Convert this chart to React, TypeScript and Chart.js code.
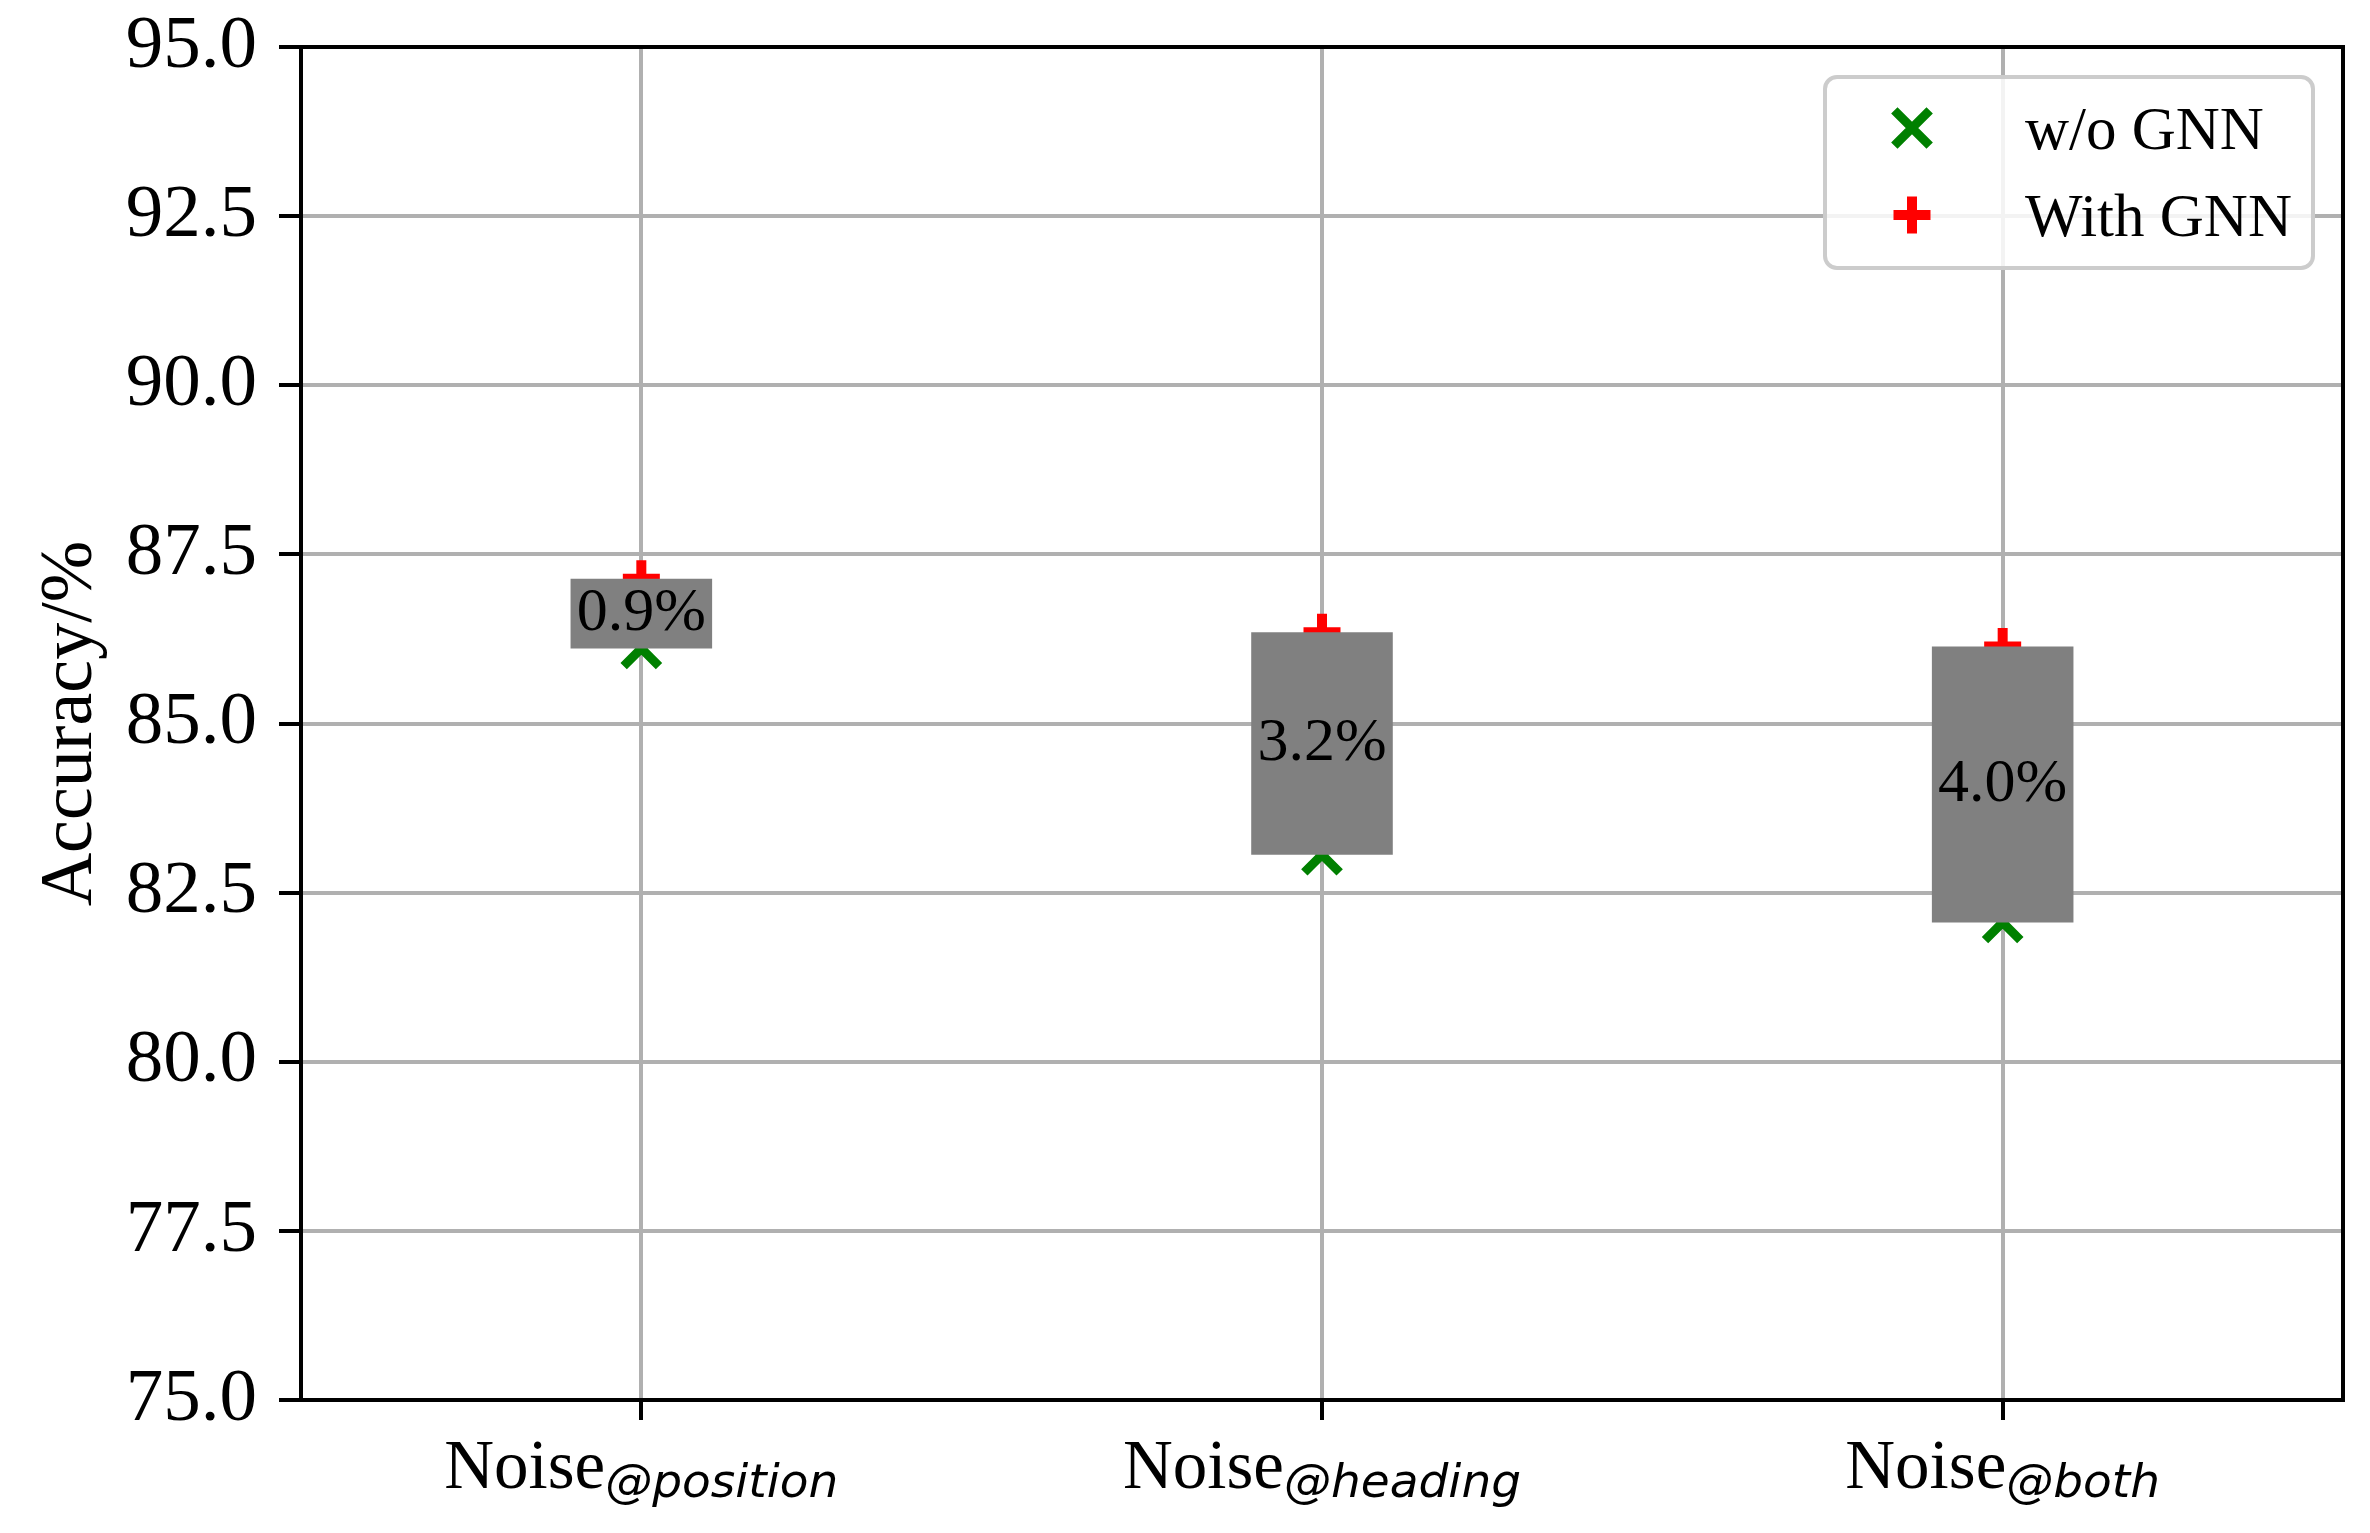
import React, { useEffect, useRef } from 'react';
import { Chart, registerables } from 'chart.js';

Chart.register(...registerables);

// ---- data ----
const categoryPrefix = 'Noise';
const categorySubs = ['@position', '@heading', '@both'];
const woGNN = [86.11, 83.06, 82.06];
const withGNN = [87.14, 86.35, 86.14];
const gainLabels = ['0.9%', '3.2%', '4.0%'];
const seriesNames = ['w/o GNN', 'With GNN'];
const yMin = 75;
const yMax = 95;
const yStep = 2.5;

const SERIF = '"Liberation Serif", "DejaVu Serif", serif';
const SANS = '"DejaVu Sans", sans-serif';

function drawMarker(ctx: CanvasRenderingContext2D, style: string, x: number, y: number, r: number, lw: number, color: string) {
  ctx.save();
  ctx.strokeStyle = color;
  ctx.lineWidth = lw;
  ctx.lineCap = 'butt';
  ctx.beginPath();
  if (style === 'crossRot') {
    const d = r * Math.SQRT1_2;
    ctx.moveTo(x - d, y - d); ctx.lineTo(x + d, y + d);
    ctx.moveTo(x + d, y - d); ctx.lineTo(x - d, y + d);
  } else {
    ctx.moveTo(x - r, y); ctx.lineTo(x + r, y);
    ctx.moveTo(x, y - r); ctx.lineTo(x, y + r);
  }
  ctx.stroke();
  ctx.restore();
}

const overlayPlugin = {
  id: 'overlay',
  afterDraw(chart: any) {
    const ctx: CanvasRenderingContext2D = chart.ctx;
    const area = chart.chartArea;

    // bar value labels
    const meta = chart.getDatasetMeta(0);
    ctx.save();
    ctx.fillStyle = '#000';
    ctx.font = `62px ${SERIF}`;
    ctx.textAlign = 'center';
    ctx.textBaseline = 'middle';
    meta.data.forEach((el: any, i: number) => {
      const cy = (el.y + el.base) / 2;
      ctx.fillText(gainLabels[i], el.x, cy);
    });
    ctx.restore();

    // frame
    ctx.save();
    ctx.strokeStyle = '#000';
    ctx.lineWidth = 4;
    ctx.strokeRect(area.left, area.top, area.right - area.left, area.bottom - area.top);
    ctx.restore();

    // x labels with subscripts
    const xs = chart.scales.x;
    ctx.save();
    ctx.fillStyle = '#000';
    ctx.textBaseline = 'alphabetic';
    ctx.textAlign = 'left';
    categorySubs.forEach((sub, i) => {
      const tx = xs.getPixelForTick(i);
      ctx.font = `69px ${SERIF}`;
      const w1 = ctx.measureText(categoryPrefix).width;
      ctx.font = `italic 47px ${SANS}`;
      const w2 = ctx.measureText(sub).width;
      const x0 = tx - (w1 + w2) / 2;
      ctx.font = `69px ${SERIF}`;
      ctx.fillText(categoryPrefix, x0, area.bottom + 88);
      ctx.font = `italic 47px ${SANS}`;
      ctx.fillText(sub, x0 + w1, area.bottom + 97);
    });
    ctx.restore();

    // legend
    const bx1 = area.right - 30;
    const bx0 = bx1 - 488;
    const by0 = area.top + 30;
    const by1 = by0 + 191;
    ctx.save();
    ctx.beginPath();
    const r = 12;
    ctx.moveTo(bx0 + r, by0);
    ctx.lineTo(bx1 - r, by0);
    ctx.arcTo(bx1, by0, bx1, by0 + r, r);
    ctx.lineTo(bx1, by1 - r);
    ctx.arcTo(bx1, by1, bx1 - r, by1, r);
    ctx.lineTo(bx0 + r, by1);
    ctx.arcTo(bx0, by1, bx0, by1 - r, r);
    ctx.lineTo(bx0, by0 + r);
    ctx.arcTo(bx0, by0, bx0 + r, by0, r);
    ctx.closePath();
    ctx.fillStyle = 'rgba(255,255,255,0.85)';
    ctx.fill();
    ctx.strokeStyle = '#cccccc';
    ctx.lineWidth = 4;
    ctx.stroke();
    ctx.restore();

    const ds = chart.data.datasets;
    [1, 2].forEach((di, k) => {
      const d = ds[di];
      const cy = by0 + 51 + k * 87;
      drawMarker(ctx, d.pointStyle, bx0 + 87, cy, d.pointRadius, d.pointBorderWidth, d.pointBorderColor);
      ctx.save();
      ctx.fillStyle = '#000';
      ctx.font = `61px ${SERIF}`;
      ctx.textAlign = 'left';
      ctx.textBaseline = 'alphabetic';
      ctx.fillText(seriesNames[k], bx0 + 200, cy + 21);
      ctx.restore();
    });
  },
};

export default function App() {
  const ref = useRef<HTMLCanvasElement | null>(null);

  useEffect(() => {
    if (!ref.current) return;
    const chart = new Chart(ref.current, {
      type: 'bar',
      data: {
        labels: categorySubs.map((s) => categoryPrefix + s),
        datasets: [
          {
            type: 'bar',
            label: 'gain',
            data: woGNN.map((w, i) => [w, withGNN[i]]) as any,
            backgroundColor: '#808080',
            borderWidth: 0,
            barPercentage: 0.208,
            categoryPercentage: 1.0,
            order: 1,
          } as any,
          {
            type: 'line',
            label: seriesNames[0],
            data: woGNN,
            showLine: false,
            pointStyle: 'crossRot',
            pointRadius: 25,
            pointHoverRadius: 25,
            pointBorderWidth: 9,
            pointBorderColor: '#008000',
            pointBackgroundColor: '#008000',
            order: 2,
          } as any,
          {
            type: 'line',
            label: seriesNames[1],
            data: withGNN,
            showLine: false,
            pointStyle: 'cross',
            pointRadius: 18.5,
            pointHoverRadius: 18.5,
            pointBorderWidth: 10,
            pointBorderColor: '#ff0000',
            pointBackgroundColor: '#ff0000',
            order: 2,
          } as any,
        ],
      },
      options: {
        responsive: false,
        animation: false,
        devicePixelRatio: 1,
        layout: { padding: { top: 47, right: 27, left: 0, bottom: 0 } },
        plugins: {
          legend: { display: false },
          tooltip: { enabled: false },
        },
        scales: {
          x: {
            type: 'category',
            offset: true,
            z: 1,
            grid: {
              offset: false,
              color: '#b0b0b0',
              lineWidth: 4,
              tickColor: '#000',
              tickLength: 20,
              tickWidth: 4,
            },
            border: { color: '#000', width: 4 },
            ticks: { display: false },
            afterFit: (s: any) => { s.height = 133; s.paddingLeft = 0; s.paddingRight = 0; },
          },
          y: {
            min: yMin,
            max: yMax,
            z: 1,
            grid: {
              color: '#b0b0b0',
              lineWidth: 4,
              tickColor: '#000',
              tickLength: 22,
              tickWidth: 4,
            },
            border: { color: '#000', width: 4 },
            ticks: {
              stepSize: yStep,
              padding: 22,
              color: '#000',
              font: { family: SERIF, size: 75 },
              callback: (v: any) => Number(v).toFixed(1),
            },
            title: {
              display: true,
              text: 'Accuracy/%',
              color: '#000',
              font: { family: SERIF, size: 74 },
              padding: { top: 27, bottom: 0 },
            },
            afterFit: (s: any) => { s.width = 301; s.paddingTop = 0; s.paddingBottom = 0; s.paddingLeft = 0; s.paddingRight = 0; },
          },
        },
      },
      plugins: [overlayPlugin],
    } as any);
    return () => chart.destroy();
  }, []);

  return (
    <div style={{ position: 'fixed', left: 0, top: 0, width: 2370, height: 1533, background: '#fff', overflow: 'hidden' }}>
      <canvas ref={ref} width={2377} height={1533} style={{ display: 'block', width: 2377, height: 1533 }} />
    </div>
  );
}
